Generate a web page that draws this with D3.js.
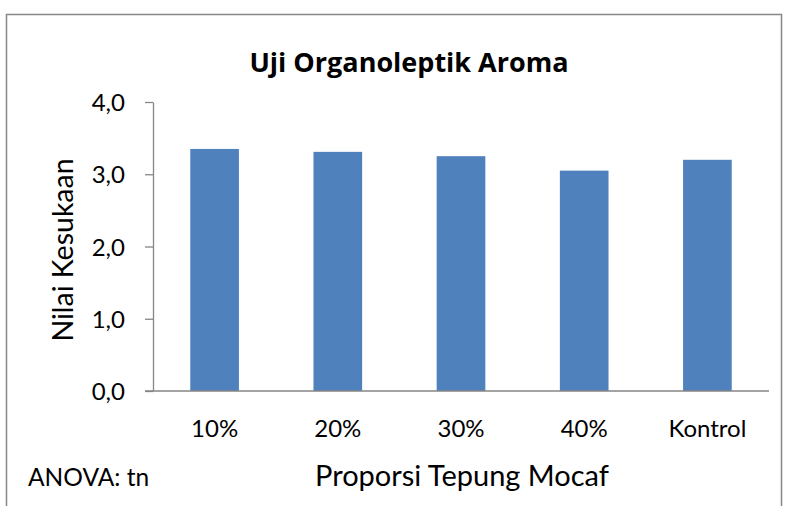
<!DOCTYPE html>
<html lang="en">
<head>
  <meta charset="utf-8">
  <title>Uji Organoleptik Aroma</title>
  <script src="https://d3js.org/d3.v7.min.js"></script>
  <style>
    body { margin: 0; background: #fff; }
    text { font-family: Lato, "Open Sans", sans-serif; fill: #000; }
  </style>
</head>
<body>
  <div id="chart"></div>
  <script>
    var categories = ["10%", "20%", "30%", "40%", "Kontrol"];
    var values = [3.35, 3.31, 3.25, 3.05, 3.20];
    var yTicks = [0, 1, 2, 3, 4];

    var width = 785, height = 506;
    var margin = {left: 153, right: 16, top: 102, bottom: 115};

    var svg = d3.select("#chart").append("svg")
      .attr("width", width)
      .attr("height", height);

    // chart area frame
    svg.append("rect")
      .attr("x", 6.5).attr("y", 14.5)
      .attr("width", 775).attr("height", 520)
      .attr("fill", "#fff")
      .attr("stroke", "#878787")
      .attr("stroke-width", 1.5);

    var x = d3.scaleBand()
      .domain(categories)
      .range([margin.left, width - margin.right])
      .paddingInner(0.605)
      .paddingOuter(0.3025);

    var y = d3.scaleLinear()
      .domain([0, 4])
      .range([height - margin.bottom, margin.top]);

    svg.append("g").selectAll("rect")
      .data(values)
      .enter()
      .append("rect")
      .attr("x", (d, i) => x(categories[i]))
      .attr("y", d => y(d))
      .attr("width", x.bandwidth())
      .attr("height", d => y(0) - y(d))
      .attr("fill", "#4F81BD");

    // y axis
    var yAxis = svg.append("g")
      .attr("transform", "translate(" + margin.left + ",0)")
      .call(d3.axisLeft(y).tickValues(yTicks).tickSize(8).tickSizeOuter(0)
        .tickFormat(d => d3.format(".1f")(d).replace(".", ",")));
    yAxis.select(".domain").attr("stroke", "#868686").attr("stroke-width", 1.3);
    yAxis.selectAll(".tick line").attr("stroke", "#868686").attr("stroke-width", 1.3);
    yAxis.selectAll(".tick text")
      .attr("x", -28)
      .attr("dy", "0.36em")
      .style("font-size", "24px")
      .style("font-family", "Lato, sans-serif");

    // x axis
    var xAxis = svg.append("g")
      .attr("transform", "translate(0," + y(0) + ")")
      .call(d3.axisBottom(x).tickSize(0).tickSizeOuter(0));
    xAxis.select(".domain").attr("stroke", "#868686").attr("stroke-width", 1.3)
      .attr("d", "M" + (margin.left - 8) + ",0H" + (width - margin.right));
    xAxis.selectAll(".tick text")
      .attr("y", 46).attr("dy", 0)
      .style("font-size", "24px")
      .style("font-family", "Lato, sans-serif");

    svg.append("text")
      .attr("x", 409).attr("y", 72)
      .attr("text-anchor", "middle")
      .style("font-family", "'Open Sans', sans-serif")
      .style("font-size", "27px")
      .style("font-weight", "bold")
      .text("Uji Organoleptik Aroma");

    svg.append("text")
      .attr("transform", "translate(73,250) rotate(-90)")
      .attr("text-anchor", "middle")
      .style("font-size", "28.5px")
      .text("Nilai Kesukaan");

    svg.append("text")
      .attr("x", 462).attr("y", 486)
      .attr("text-anchor", "middle")
      .style("font-size", "29px")
      .text("Proporsi Tepung Mocaf");

    svg.append("text")
      .attr("x", 28).attr("y", 486)
      .style("font-size", "24.5px")
      .text("ANOVA: tn");
  </script>
</body>
</html>
